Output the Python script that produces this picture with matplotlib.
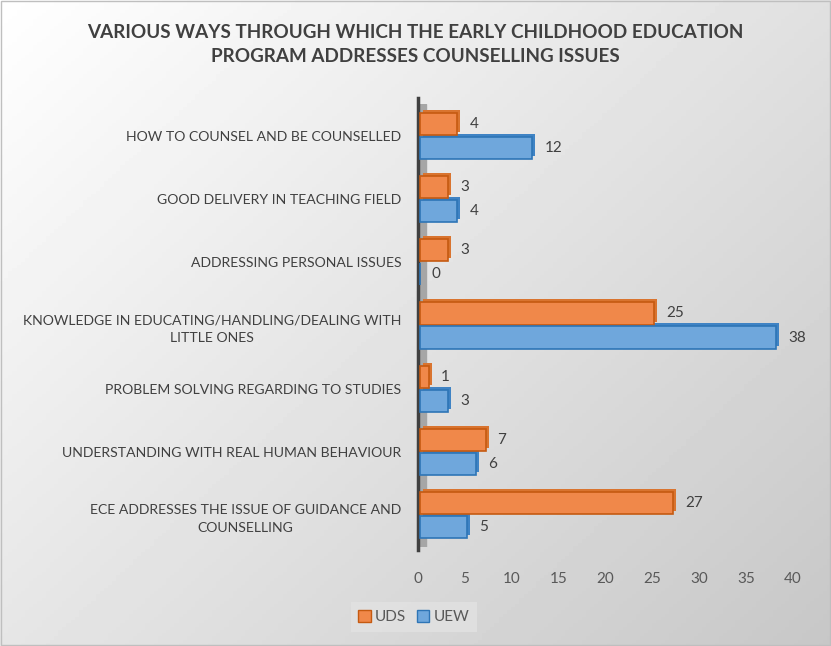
import numpy as np
import matplotlib
matplotlib.use("Agg")
import matplotlib.pyplot as plt
import matplotlib.transforms as mtransforms
from matplotlib.patches import Patch

plt.rcParams['font.family'] = ['Lato', 'DejaVu Sans']

categories = [
    "HOW TO COUNSEL AND BE COUNSELLED",
    "GOOD DELIVERY IN TEACHING FIELD",
    "ADDRESSING PERSONAL ISSUES",
    "KNOWLEDGE IN EDUCATING/HANDLING/DEALING WITH\nLITTLE ONES",
    "PROBLEM SOLVING REGARDING TO STUDIES",
    "UNDERSTANDING WITH REAL HUMAN BEHAVIOUR",
    "ECE ADDRESSES THE ISSUE OF GUIDANCE AND\nCOUNSELLING",
]
uds = [4, 3, 3, 25, 1, 7, 27]
uew = [12, 4, 0, 38, 3, 6, 5]

title = "VARIOUS WAYS THROUGH WHICH THE EARLY CHILDHOOD EDUCATION\nPROGRAM ADDRESSES COUNSELLING ISSUES"

W, H = 831, 646
fig = plt.figure(figsize=(W / 100, H / 100), dpi=100)

# gradient background
bg = fig.add_axes([0, 0, 1, 1], zorder=-10)
gx, gy = np.meshgrid(np.linspace(0, 1, 200), np.linspace(0, 1, 200))
grad = 1.0 - 0.22 * (0.55 * gx + 0.45 * gy)
bg.imshow(grad, cmap='gray', vmin=0, vmax=1, aspect='auto', extent=[0, 1, 0, 1], origin='upper')
bg.set_xlim(0, 1)
bg.set_ylim(0, 1)
bg.axis('off')
bg.add_patch(plt.Rectangle((0.0015, 0.002), 0.997, 0.996, fill=False, ec='#bfbfbf', lw=1))

left, right = 418 / W, 793 / W
top, bottom = 1 - 104 / H, 1 - 547 / H
ax = fig.add_axes([left, bottom, right - left, top - bottom])
ax.set_facecolor('none')

y = np.arange(len(categories))
h = 0.35
off = 0.19

orange, orange_dk = '#f0884a', '#c55a11'
blue, blue_dk = '#6fa7dc', '#2e75b6'

# 3D depth: shifted copies behind the faces
depth = mtransforms.offset_copy(ax.transData, fig=fig, x=3, y=3, units='dots')
ax.barh(y - off, uds, height=h, left=0.2, color='#d9742f', transform=depth, zorder=2)
ax.barh(y + off, uew, height=h, left=0.2, color='#3f83c4', transform=depth, zorder=2)
ax.barh(y - off, uds, height=h, left=0.2, color=orange, edgecolor=orange_dk, lw=1.2, zorder=3)
ax.barh(y + off, uew, height=h, left=0.2, color=blue, edgecolor=blue_dk, lw=1.2, zorder=3)

for i in range(len(categories)):
    ax.annotate(str(uds[i]), (uds[i], y[i] - off), xytext=(10, 0), textcoords='offset points',
                va='center', ha='left', fontsize=11, color='#404040')
    ax.annotate(str(uew[i]), (uew[i], y[i] + off), xytext=(10, 0), textcoords='offset points',
                va='center', ha='left', fontsize=11, color='#404040')

# wall strip next to the axis
ax.axvspan(0, 0.9, color='#a6a6a6', zorder=1)

ax.set_xlim(0, 40)
ax.set_ylim(len(categories) - 0.5, -0.5)
ax.set_xticks(np.arange(0, 41, 5))
ax.set_yticks(y)
ax.set_yticklabels(categories, multialignment='center', linespacing=1.55)
ax.tick_params(axis='y', length=0, pad=12, labelsize=10.1, labelcolor='#404040')
ax.tick_params(axis='x', length=0, pad=18, labelsize=11, labelcolor='#595959')
for s in ['top', 'right', 'bottom']:
    ax.spines[s].set_visible(False)
ax.spines['left'].set_color('#404040')
ax.spines['left'].set_linewidth(2.5)
ax.spines['left'].set_bounds(-0.6, 6.55)

fig.text(415 / W, 1 - 44 / H, title, ha='center', va='center', fontsize=13.6,
         fontweight='bold', color='#404040', linespacing=1.5)

handles = [Patch(facecolor=orange, edgecolor=orange_dk, label='UDS'),
           Patch(facecolor=blue, edgecolor=blue_dk, label='UEW')]
leg = fig.legend(handles=handles, loc='center', bbox_to_anchor=(414 / W, 1 - 617 / H), ncol=2,
                 frameon=True, fontsize=11, handlelength=0.8, handleheight=0.8,
                 handletextpad=0.3, columnspacing=0.7, fancybox=False, borderpad=0.5)
leg.get_frame().set_facecolor('#e2e2e2')
leg.get_frame().set_edgecolor('none')
for t in leg.get_texts():
    t.set_color('#595959')

fig.savefig('out.png', dpi=100)
